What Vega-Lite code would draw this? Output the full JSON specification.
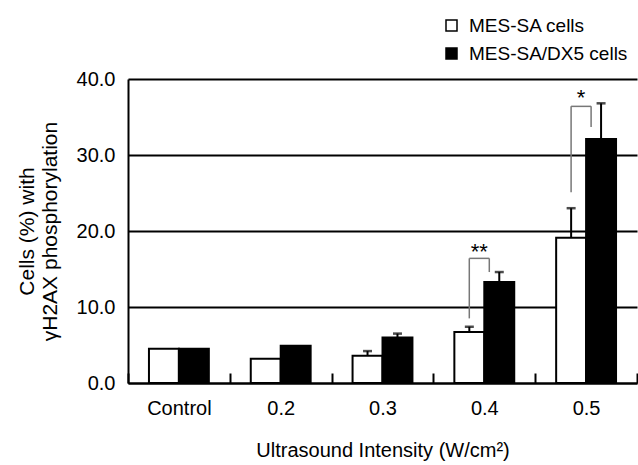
{
  "$schema": "https://vega.github.io/schema/vega-lite/v6.json",
  "width": 509,
  "height": 304,
  "autosize": "none",
  "padding": {"left": 128, "top": 79, "right": 1, "bottom": 82},
  "background": "white",
  "config": {
    "font": "Liberation Sans",
    "view": {"stroke": null}
  },
  "datasets": {
    "bars": [
      {"category": "Control", "series": "MES-SA cells", "value": 4.5, "upper": 4.5},
      {"category": "Control", "series": "MES-SA/DX5 cells", "value": 4.5, "upper": 4.5},
      {"category": "0.2", "series": "MES-SA cells", "value": 3.2, "upper": 3.2},
      {"category": "0.2", "series": "MES-SA/DX5 cells", "value": 4.9, "upper": 4.9},
      {"category": "0.3", "series": "MES-SA cells", "value": 3.6, "upper": 4.2},
      {"category": "0.3", "series": "MES-SA/DX5 cells", "value": 6.0, "upper": 6.5},
      {"category": "0.4", "series": "MES-SA cells", "value": 6.7, "upper": 7.4},
      {"category": "0.4", "series": "MES-SA/DX5 cells", "value": 13.3, "upper": 14.6},
      {"category": "0.5", "series": "MES-SA cells", "value": 19.1, "upper": 23.0},
      {"category": "0.5", "series": "MES-SA/DX5 cells", "value": 32.1, "upper": 36.8}
    ],
    "sig": [
      {"category": "0.4", "leftLow": 8.5, "top": 16.4, "rightLow": 14.6, "starY": 17.9, "label": "**"},
      {"category": "0.5", "leftLow": 25.1, "top": 36.4, "rightLow": 33.7, "starY": 38.2, "label": "*"}
    ]
  },
  "layer": [
    {
      "data": {"name": "bars"},
      "mark": {"type": "bar", "stroke": "black", "strokeWidth": 2},
      "encoding": {
        "x": {
          "field": "category", "type": "nominal",
          "sort": ["Control", "0.2", "0.3", "0.4", "0.5"],
          "scale": {"paddingInner": 0, "paddingOuter": 0},
          "axis": {
            "title": "Ultrasound Intensity (W/cm²)",
            "titleFontSize": 20, "titleFontWeight": "normal", "titleColor": "black",
            "titlePadding": 22,
            "labelAngle": 0, "labelFontSize": 20, "labelColor": "black", "labelPadding": 25,
            "tickBand": "extent", "tickSize": -10, "tickColor": "black", "tickWidth": 2,
            "domainColor": "black", "domainWidth": 2
          }
        },
        "xOffset": {
          "field": "series", "type": "nominal",
          "scale": {"paddingInner": 0, "paddingOuter": 0.7}
        },
        "y": {
          "field": "value", "type": "quantitative",
          "scale": {"domain": [0, 40], "nice": false},
          "axis": {
            "title": ["Cells (%) with", "γH2AX phosphorylation"],
            "titleFontSize": 21, "titleFontWeight": "normal", "titleColor": "black",
            "titlePadding": 16, "titleLineHeight": 23,
            "values": [0, 10, 20, 30, 40], "format": ".1f",
            "labelFontSize": 20, "labelColor": "black", "labelPadding": 13,
            "ticks": false,
            "grid": true, "gridColor": "black", "gridWidth": 2, "gridOpacity": 1,
            "domainColor": "black", "domainWidth": 2
          }
        },
        "color": {
          "field": "series", "type": "nominal",
          "scale": {"domain": ["MES-SA cells", "MES-SA/DX5 cells"], "range": ["white", "black"]},
          "legend": {
            "title": null, "orient": "none", "legendX": 314, "legendY": -63,
            "symbolType": "square", "symbolSize": 121, "symbolStrokeColor": "black",
            "symbolStrokeWidth": 1.5, "labelFontSize": 19, "labelColor": "black",
            "rowPadding": 8, "labelOffset": 8
          }
        }
      }
    },
    {
      "data": {"name": "bars"},
      "transform": [{"filter": "datum.upper > datum.value"}],
      "mark": {"type": "rule", "color": "black", "strokeWidth": 2},
      "encoding": {
        "x": {"field": "category", "type": "nominal", "sort": ["Control", "0.2", "0.3", "0.4", "0.5"]},
        "xOffset": {"field": "series", "type": "nominal"},
        "y": {"field": "value", "type": "quantitative"},
        "y2": {"field": "upper"}
      }
    },
    {
      "data": {"name": "bars"},
      "transform": [{"filter": "datum.upper > datum.value"}],
      "mark": {"type": "tick", "color": "black", "thickness": 2.5, "size": 9, "orient": "horizontal"},
      "encoding": {
        "x": {"field": "category", "type": "nominal", "sort": ["Control", "0.2", "0.3", "0.4", "0.5"]},
        "xOffset": {"field": "series", "type": "nominal"},
        "y": {"field": "upper", "type": "quantitative"}
      }
    },
    {
      "data": {"name": "sig"},
      "mark": {"type": "rule", "color": "#777777", "strokeWidth": 1.5, "xOffset": -15},
      "encoding": {
        "x": {"field": "category", "type": "nominal", "sort": ["Control", "0.2", "0.3", "0.4", "0.5"]},
        "y": {"field": "leftLow", "type": "quantitative"},
        "y2": {"field": "top"}
      }
    },
    {
      "data": {"name": "sig"},
      "mark": {"type": "rule", "color": "#777777", "strokeWidth": 1.5, "xOffset": 5},
      "encoding": {
        "x": {"field": "category", "type": "nominal", "sort": ["Control", "0.2", "0.3", "0.4", "0.5"]},
        "y": {"field": "rightLow", "type": "quantitative"},
        "y2": {"field": "top"}
      }
    },
    {
      "data": {"name": "sig"},
      "mark": {"type": "rule", "color": "#777777", "strokeWidth": 1.5, "xOffset": -15, "x2Offset": 5},
      "encoding": {
        "x": {"field": "category", "type": "nominal", "sort": ["Control", "0.2", "0.3", "0.4", "0.5"]},
        "x2": {"field": "category"},
        "y": {"field": "top", "type": "quantitative"}
      }
    },
    {
      "data": {"name": "sig"},
      "mark": {"type": "text", "fontSize": 22, "color": "black", "dx": -5, "baseline": "middle", "dy": 5},
      "encoding": {
        "x": {"field": "category", "type": "nominal", "sort": ["Control", "0.2", "0.3", "0.4", "0.5"]},
        "y": {"field": "starY", "type": "quantitative"},
        "text": {"field": "label"}
      }
    }
  ]
}
